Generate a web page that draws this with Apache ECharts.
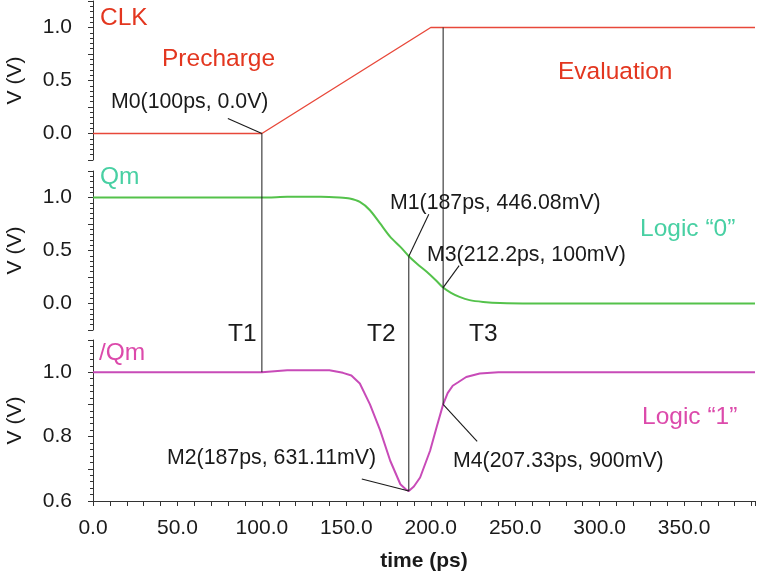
<!DOCTYPE html>
<html>
<head>
<meta charset="utf-8">
<script src="https://cdn.jsdelivr.net/npm/echarts@6/dist/echarts.min.js"></script>
<style>html,body{margin:0;padding:0;background:#fff;}#c{width:769px;height:578px;}</style>
</head>
<body>
<div id="c"></div>
<script>
// ---------- data ----------
const clkTime = [0, 100, 200, 392];
const clkVolt = [0, 0, 1.0, 1.0];

const qmTime = [0, 100, 115, 135, 146, 152, 158, 164, 170, 176, 182, 187, 192, 197.6, 203, 207.33, 212, 217, 223, 231, 241, 260, 392];
const qmVolt = [1.0, 1.0, 1.006, 1.007, 1.0, 0.99, 0.958, 0.88, 0.755, 0.628, 0.534, 0.446, 0.373, 0.30, 0.22, 0.15, 0.10, 0.062, 0.032, 0.015, 0.004, 0.0, 0.0];

const qbTime = [0, 100, 115, 140, 148, 153, 158, 164, 170, 176, 182, 185, 187, 190, 193.7, 199.6, 203.5, 207.33, 210, 213, 216, 221, 229, 240, 392];
const qbVolt = [1.0, 1.0, 1.006, 1.006, 0.998, 0.99, 0.965, 0.90, 0.82, 0.725, 0.652, 0.637, 0.631, 0.645, 0.673, 0.756, 0.83, 0.90, 0.935, 0.958, 0.968, 0.985, 0.996, 1.0, 1.0];

// markers (panel index, time, value, label)
const markerNames  = ['M0(100ps, 0.0V)', 'M1(187ps, 446.08mV)', 'M2(187ps, 631.11mV)', 'M3(212.2ps, 100mV)', 'M4(207.33ps, 900mV)'];
const markerPanel  = [0, 1, 2, 1, 2];
const markerTime   = [100, 187, 187, 207.33, 207.33];
const markerVolt   = [0.0, 0.446, 0.631, 0.15, 0.90];

// vertical time lines T1..T3
const vlineTime = [100, 187, 207.33];
const vlineFrom = [[0, 0.0], [1, 0.446], [0, 1.0]];
const vlineTo   = [[2, 1.0], [2, 0.631], [2, 0.90]];

// ---------- layout / style ----------
const FONT = '"Liberation Sans", Arial, Helvetica, sans-serif';
const leaderOffset = [[-34, -15], [20, -42], [-47, -12], [16, -22], [34, 37]];
const markerTextPos = [[111, 102.5], [390, 203.5], [167, 458.5], [427, 255.5], [453, 461.5]];
const colorLabels = [
  {text: 'CLK', x: 100, y: 18, c: '#e3361f'},
  {text: 'Precharge', x: 162, y: 59, c: '#e3361f'},
  {text: 'Evaluation', x: 558, y: 72, c: '#e3361f'},
  {text: 'Qm', x: 100, y: 177, c: '#48d0a3'},
  {text: 'Logic \u201c0\u201d', x: 640, y: 229.5, c: '#48d0a3'},
  {text: '/Qm', x: 99, y: 353, c: '#dc4aab'},
  {text: 'Logic \u201c1\u201d', x: 642, y: 417, c: '#dc4aab'},
  {text: 'T1', x: 228, y: 334.5, c: '#1a1a1a'},
  {text: 'T2', x: 367, y: 334.5, c: '#1a1a1a'},
  {text: 'T3', x: 469, y: 334.5, c: '#1a1a1a'}
];

function pairs(t, v) { return t.map((x, i) => [x, v[i]]); }

function yAxisCfg(grid, min, max, interval, labelStep, minorSplit) {
  return {
    type: 'value', gridIndex: grid, min: min, max: max, interval: interval, offset: 7,
    name: 'V (V)', nameLocation: 'middle', nameGap: 60,
    nameTextStyle: {fontSize: 21, color: '#1a1a1a', fontFamily: FONT},
    axisLine: {show: true, lineStyle: {color: '#333', width: 1}},
    axisTick: {show: true, length: 5, lineStyle: {color: '#333', width: 1}},
    minorTick: {show: true, splitNumber: minorSplit, length: 3, lineStyle: {color: '#333', width: 1}},
    splitLine: {show: false}, minorSplitLine: {show: false},
    axisLabel: {
      fontSize: 21, color: '#1a1a1a', fontFamily: FONT, margin: 14,
      showMinLabel: true, showMaxLabel: true,
      formatter: function (v) {
        const k = v / labelStep;
        return Math.abs(k - Math.round(k)) < 1e-6 ? v.toFixed(1) : '';
      }
    }
  };
}

function xAxisCfg(grid, show) {
  return {
    type: 'value', gridIndex: grid, min: 0, max: 392, interval: 10, show: show,
    name: show ? 'time (ps)' : '', nameLocation: 'middle', nameGap: 50,
    nameTextStyle: {fontSize: 21, fontWeight: 'bold', color: '#1a1a1a', fontFamily: FONT},
    axisLine: {show: true, onZero: false, lineStyle: {color: '#333', width: 1}},
    axisTick: {show: true, length: 5, lineStyle: {color: '#333', width: 1}},
    splitLine: {show: false},
    axisLabel: {
      fontSize: 21, color: '#1a1a1a', fontFamily: FONT, margin: 17,
      formatter: function (v) {
        const k = v / 50;
        return Math.abs(k - Math.round(k)) < 1e-6 ? v.toFixed(1) : '';
      }
    }
  };
}

const chart = echarts.init(document.getElementById('c'), null, {renderer: 'canvas'});
chart.setOption({
  animation: false,
  backgroundColor: '#fff',
  grid: [
    {left: 93, width: 662, top: 1, height: 159, containLabel: false, outerBoundsMode: 'none'},
    {left: 93, width: 662, top: 171, height: 159, containLabel: false, outerBoundsMode: 'none'},
    {left: 93, width: 662, top: 340, height: 161, containLabel: false, outerBoundsMode: 'none'}
  ],
  xAxis: [xAxisCfg(0, false), xAxisCfg(1, false), xAxisCfg(2, true)],
  yAxis: [
    yAxisCfg(0, -0.25, 1.25, 0.25, 0.5, 5),
    yAxisCfg(1, -0.25, 1.25, 0.25, 0.5, 5),
    yAxisCfg(2, 0.6, 1.1, 0.1, 0.2, 5)
  ],
  series: [
    {type: 'line', xAxisIndex: 0, yAxisIndex: 0, data: pairs(clkTime, clkVolt), showSymbol: false,
     lineStyle: {color: '#e8483a', width: 1.4}, silent: true},
    {type: 'line', xAxisIndex: 1, yAxisIndex: 1, data: pairs(qmTime, qmVolt), showSymbol: false, smooth: 0.25,
     lineStyle: {color: '#54c24b', width: 2}, silent: true},
    {type: 'line', xAxisIndex: 2, yAxisIndex: 2, data: pairs(qbTime, qbVolt), showSymbol: false,
     lineStyle: {color: '#c84bb8', width: 2}, silent: true}
  ]
});

function px(panel, t, v) { return chart.convertToPixel({gridIndex: panel}, [t, v]); }

const g = [];
vlineTime.forEach((t, i) => {
  const a = px(vlineFrom[i][0], t, vlineFrom[i][1]);
  const b = px(vlineTo[i][0], t, vlineTo[i][1]);
  g.push({type: 'line', silent: true, z: 100, shape: {x1: a[0], y1: a[1], x2: b[0], y2: b[1]},
          style: {stroke: '#1a1a1a', lineWidth: 1}});
});
markerNames.forEach((name, i) => {
  const a = px(markerPanel[i], markerTime[i], markerVolt[i]);
  g.push({type: 'line', silent: true, z: 100,
          shape: {x1: a[0], y1: a[1], x2: a[0] + leaderOffset[i][0], y2: a[1] + leaderOffset[i][1]},
          style: {stroke: '#1a1a1a', lineWidth: 1.1}});
  g.push({type: 'text', silent: true, z: 101, x: markerTextPos[i][0], y: markerTextPos[i][1],
          style: {text: name, fill: '#1a1a1a', font: '21.3px ' + FONT,
                  textAlign: 'left', textVerticalAlign: 'middle', align: 'left', verticalAlign: 'middle'}});
});
colorLabels.forEach(l => {
  g.push({type: 'text', silent: true, z: 101, x: l.x, y: l.y,
          style: {text: l.text, fill: l.c, font: '24.5px ' + FONT,
                  textAlign: 'left', textVerticalAlign: 'middle', align: 'left', verticalAlign: 'middle'}});
});
chart.setOption({graphic: g});
</script>
</body>
</html>
